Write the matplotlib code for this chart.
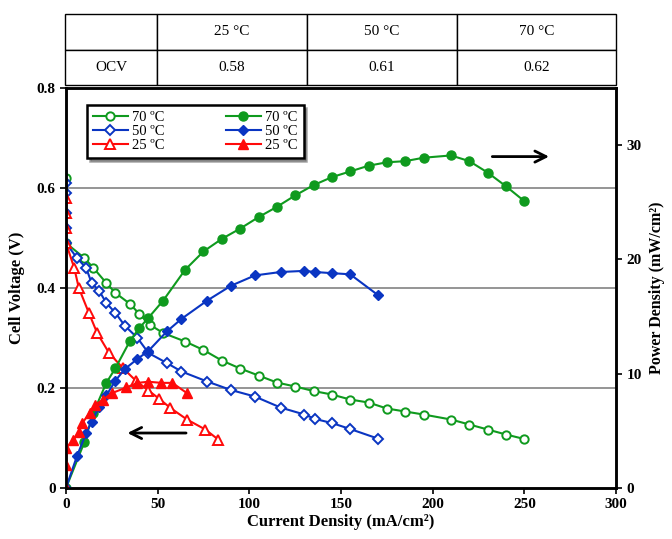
import matplotlib.pyplot as plt

plt.rcParams['font.family'] = ['Liberation Serif', 'DejaVu Serif']

# cell voltage (open symbols)
j70_v = [0, 0, 10, 15, 22, 27, 35, 40, 46, 53, 65, 75, 85, 95, 105, 115, 125,
         135, 145, 155, 165, 175, 185, 195, 210, 220, 230, 240, 250]
v70 = [0.62, 0.49, 0.46, 0.44, 0.41, 0.39, 0.368, 0.348, 0.326, 0.31, 0.293,
       0.276, 0.255, 0.239, 0.225, 0.211, 0.203, 0.194, 0.187, 0.177, 0.171,
       0.159, 0.153, 0.147, 0.137, 0.127, 0.117, 0.107, 0.098]

j50_v = [0, 0, 0, 0, 0, 6, 11, 14, 18, 22, 27, 32, 39, 45, 55, 63, 77, 90,
         103, 117, 130, 136, 145, 155, 170]
v50 = [0.61, 0.59, 0.55, 0.52, 0.49, 0.46, 0.44, 0.41, 0.395, 0.37, 0.35,
       0.325, 0.30, 0.27, 0.25, 0.233, 0.213, 0.196, 0.183, 0.161, 0.147,
       0.138, 0.13, 0.118, 0.099]

j25_v = [0, 0, 0, 0, 4.5, 7, 12.5, 17, 23.5, 31, 38, 45, 51, 57, 66, 76, 83]
v25 = [0.58, 0.55, 0.52, 0.49, 0.44, 0.40, 0.35, 0.31, 0.27, 0.24, 0.215,
       0.195, 0.178, 0.16, 0.137, 0.117, 0.097]

# power density (filled symbols)
j70_p = [0, 10, 15, 22, 27, 35, 40, 45, 53, 65, 75, 85, 95, 105, 115, 125,
         135, 145, 155, 165, 175, 185, 195, 210, 220, 230, 240, 250]
p70 = [0, 4.0, 6.6, 9.2, 10.5, 12.9, 14.0, 14.9, 16.4, 19.1, 20.7, 21.8, 22.7,
       23.7, 24.6, 25.6, 26.5, 27.2, 27.7, 28.2, 28.5, 28.6, 28.9, 29.1, 28.6,
       27.6, 26.4, 25.1]

j50_p = [0, 6, 11, 14, 18, 22, 27, 32, 39, 45, 55, 63, 77, 90, 103, 117, 130,
         136, 145, 155, 170]
p50 = [0, 2.8, 4.8, 5.8, 7.1, 8.1, 9.4, 10.4, 11.3, 12.0, 13.7, 14.8, 16.4,
       17.7, 18.6, 18.9, 19.0, 18.9, 18.8, 18.7, 16.9]

j25_p = [0, 0, 0, 4, 7, 9, 13, 16, 20, 25, 33, 39, 45, 52, 58, 66]
p25 = [0, 2.0, 3.5, 4.2, 4.9, 5.7, 6.6, 7.3, 7.7, 8.3, 8.8, 9.2, 9.3, 9.2,
       9.2, 8.3]

temps = ['25 °C', '50 °C', '70 °C']
ocv = ['0.58', '0.61', '0.62']

green = '#0f9a1e'
blue = '#0a35c2'
red = '#ff0a0a'

fig = plt.figure(figsize=(6.72, 5.39), dpi=100)
ax = fig.add_axes([0.0982, 0.0946, 0.8185, 0.7421])
ax2 = ax.twinx()

open_kw = dict(lw=1.5, mfc='white', mew=1.4)
h70o, = ax.plot(j70_v, v70, '-o', color=green, ms=6, label='70 ºC', **open_kw)
h50o, = ax.plot(j50_v, v50, '-D', color=blue, ms=5, label='50 ºC', **open_kw)
h25o, = ax.plot(j25_v, v25, '-^', color=red, ms=6.5, label='25 ºC', **open_kw)

h70f, = ax2.plot(j70_p, p70, '-o', color=green, ms=6.5, lw=1.5, label='70 ºC')
h50f, = ax2.plot(j50_p, p50, '-D', color=blue, ms=5.5, lw=1.5, label='50 ºC')
h25f, = ax2.plot(j25_p, p25, '-^', color=red, ms=7, lw=1.5, label='25 ºC')

ax.set_xlim(0, 300)
ax.set_ylim(0, 0.8)
ax2.set_ylim(0, 35)
ax.set_xticks([0, 50, 100, 150, 200, 250, 300])
ax.set_yticks([0, 0.2, 0.4, 0.6, 0.8])
ax.set_yticklabels(['0', '0.2', '0.4', '0.6', '0.8'])
ax2.set_yticks([0, 10, 20, 30])

for y in [0.2, 0.4, 0.6]:
    ax.axhline(y, color='#8c8c8c', lw=1.3, zorder=0)

for a in (ax, ax2):
    for s in a.spines.values():
        s.set_linewidth(1.8)
    a.tick_params(labelsize=11, width=1.2, length=4)
    for t in a.get_xticklabels() + a.get_yticklabels():
        t.set_fontweight('bold')

ax.set_xlabel('Current Density (mA/cm²)', fontsize=12, fontweight='bold', labelpad=2)
ax.set_ylabel('Cell Voltage (V)', fontsize=12, fontweight='bold', labelpad=8)
ax2.set_ylabel('Power Density (mW/cm²)', fontsize=11.5, fontweight='bold', labelpad=5)

ax2.annotate('', xy=(32, 0.11 * 35 / 0.8), xytext=(67, 0.11 * 35 / 0.8),
             arrowprops=dict(arrowstyle='->', lw=2, color='black', mutation_scale=20))
ax2.annotate('', xy=(265, 29.0), xytext=(231, 29.0),
             arrowprops=dict(arrowstyle='->', lw=2, color='black', mutation_scale=20))

leg = ax2.legend(handles=[h70o, h50o, h25o, h70f, h50f, h25f], ncol=2,
                 loc='upper left', bbox_to_anchor=(0.025, 0.975),
                 fontsize=10.5, frameon=True, fancybox=False, shadow=True,
                 handlelength=2.4, columnspacing=4.2, labelspacing=0.05,
                 borderpad=0.4, handletextpad=0.3)
leg.get_frame().set_edgecolor('black')
leg.get_frame().set_linewidth(1.8)

tab = fig.add_axes([0.0967, 0.8423, 0.8200, 0.1317])
tab.axis('off')
cells = [[''] + temps, ['OCV'] + ocv]
table = tab.table(cellText=cells, cellLoc='center', loc='center', bbox=[0, 0, 1, 1],
                  colWidths=[92, 150, 150, 159])
table.auto_set_font_size(False)
for (r, c), cell in table.get_celld().items():
    cell.set_fontsize(11)
    cell.set_linewidth(1.0)

fig.savefig('out.png', dpi=100)
